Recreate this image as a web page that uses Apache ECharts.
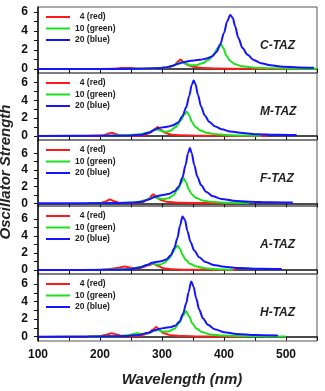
<!DOCTYPE html>
<html>
<head>
<meta charset="utf-8">
<script src="https://cdn.jsdelivr.net/npm/echarts@6/dist/echarts.min.js"></script>
<style>
  html, body { margin: 0; padding: 0; background: #fff; }
  #chart { width: 325px; height: 391px; }
</style>
</head>
<body>
<div id="chart"></div>
<script>
// panel names and legend names
const panelNames = ['C-TAZ', 'M-TAZ', 'F-TAZ', 'A-TAZ', 'H-TAZ'];
const seriesNames = ['4 (red)', '10 (green)', '20 (blue)'];
const yLabelValues = [0, 2, 4, 6];
const yTickValues = [0, 1, 2, 3, 4, 5, 6];
const xLabelValues = [100, 200, 300, 400, 500];

// [wavelength nm, oscillator strength]
const cRed = [[180,0],[220,0.02],[235,0.1],[250,0.1],[262,0.02],[290,0.05],[310,0.15],[320,0.4],[326,0.8],[330,1.0],[335,0.7],[342,0.4],[352,0.2],[365,0.1],[390,0.05],[430,0.02],[530,0]];
const cGreen = [[180,0],[260,0.02],[290,0.05],[305,0.15],[318,0.35],[326,0.6],[332,0.75],[338,0.55],[346,0.4],[355,0.4],[365,0.6],[375,0.95],[383,1.5],[390,2.2],[395,2.6],[399,2.2],[404,1.4],[410,0.85],[418,0.5],[430,0.28],[450,0.14],[480,0.07],[520,0.04],[550,0.03]];
const cBlue = [[100,0],[200,0],[260,0.02],[290,0.08],[305,0.15],[318,0.35],[326,0.55],[334,0.7],[342,0.82],[352,0.9],[362,0.98],[372,1.1],[380,1.3],[388,1.8],[394,2.6],[400,3.8],[405,5.0],[410,5.7],[414,5.4],[418,4.5],[423,3.3],[430,2.2],[438,1.5],[448,0.95],[460,0.6],[475,0.4],[495,0.25],[520,0.16],[545,0.12]];

const mRed = [[180,0],[205,0.05],[213,0.25],[219,0.35],[226,0.2],[235,0.05],[255,0.02],[272,0.1],[282,0.4],[289,0.8],[293,1.0],[298,0.7],[305,0.35],[315,0.15],[330,0.07],[360,0.03],[420,0.01],[470,0]];
const mGreen = [[200,0],[240,0.08],[265,0.2],[278,0.4],[286,0.65],[291,0.75],[297,0.6],[305,0.45],[313,0.55],[322,1.0],[330,1.7],[336,2.4],[340,2.7],[344,2.3],[348,1.6],[354,1.0],[362,0.6],[372,0.35],[388,0.18],[410,0.08],[440,0.04],[460,0.02]];
const mBlue = [[100,0],[200,0.02],[250,0.05],[268,0.15],[280,0.4],[288,0.7],[295,0.88],[302,0.98],[310,1.05],[318,1.2],[326,1.5],[333,2.2],[339,3.2],[344,4.5],[348,5.7],[351,6.2],[354,5.8],[358,4.6],[363,3.3],[369,2.3],[376,1.6],[385,1.1],[396,0.75],[410,0.5],[430,0.32],[455,0.2],[485,0.13],[517,0.1]];

const fRed = [[180,0],[200,0.03],[208,0.2],[216,0.45],[223,0.25],[232,0.05],[250,0.02],[268,0.15],[278,0.5],[286,1.1],[291,0.75],[298,0.4],[308,0.18],[325,0.08],[350,0.04],[390,0.02],[426,0]];
const fGreen = [[180,0],[230,0.03],[260,0.15],[275,0.4],[283,0.65],[288,0.72],[294,0.6],[302,0.5],[310,0.6],[318,0.95],[325,1.6],[330,2.3],[335,3.0],[339,2.5],[343,1.7],[348,1.1],[355,0.65],[365,0.35],[380,0.18],[400,0.08],[440,0.03]];
const fBlue = [[100,0],[200,0.02],[250,0.06],[268,0.2],[280,0.5],[288,0.78],[295,0.92],[303,1.02],[312,1.15],[320,1.45],[327,2.0],[333,3.1],[338,4.6],[342,6.0],[345,6.65],[348,6.0],[352,4.6],[357,3.2],[363,2.2],[371,1.4],[382,0.85],[396,0.52],[415,0.32],[440,0.2],[475,0.13],[511,0.1]];

const aRed = [[200,0],[215,0.1],[228,0.25],[240,0.4],[248,0.3],[258,0.18],[268,0.3],[278,0.55],[286,0.75],[293,0.5],[302,0.22],[315,0.1],[335,0.04],[370,0.02],[420,0]];
const aGreen = [[200,0],[230,0.05],[250,0.15],[265,0.35],[276,0.6],[284,0.78],[290,0.65],[297,0.62],[304,0.85],[311,1.3],[317,2.0],[322,2.6],[325,2.85],[329,2.5],[333,1.8],[338,1.2],[345,0.75],[354,0.45],[366,0.25],[382,0.13],[400,0.07],[415,0.04]];
const aBlue = [[100,0],[220,0.02],[250,0.1],[265,0.3],[276,0.6],[284,0.85],[292,0.97],[300,1.05],[307,1.25],[314,1.7],[320,2.6],[325,3.8],[329,5.2],[333,6.3],[337,5.9],[341,4.6],[346,3.3],[352,2.3],[360,1.5],[370,0.95],[383,0.6],[400,0.38],[425,0.23],[460,0.15],[493,0.12]];

const hRed = [[180,0],[200,0.05],[210,0.22],[219,0.4],[227,0.25],[237,0.06],[250,0.03],[265,0.12],[277,0.35],[285,0.8],[291,1.1],[296,0.75],[303,0.38],[315,0.16],[332,0.07],[360,0.03],[400,0.01],[435,0]];
const hGreen = [[180,0],[230,0.05],[248,0.2],[260,0.4],[270,0.3],[280,0.45],[288,0.7],[293,0.75],[300,0.6],[310,0.58],[320,0.9],[328,1.6],[334,2.4],[339,2.9],[344,2.3],[349,1.5],[356,0.9],[365,0.5],[378,0.26],[398,0.13],[430,0.06],[470,0.03],[500,0.02]];
const hBlue = [[100,0],[190,0.02],[240,0.08],[262,0.2],[278,0.45],[288,0.72],[296,0.9],[304,1.0],[313,1.08],[321,1.25],[328,1.7],[334,2.6],[339,3.8],[343,5.1],[347,6.3],[351,5.7],[355,4.4],[360,3.1],[366,2.1],[374,1.35],[385,0.85],[400,0.52],[420,0.32],[450,0.2],[487,0.13]];

const panelData = [
    [cRed, cGreen, cBlue],
    [mRed, mGreen, mBlue],
    [fRed, fGreen, fBlue],
    [aRed, aGreen, aBlue],
    [hRed, hGreen, hBlue]
];

// layout
const colors = ['#ff1a1a', '#1ee01e', '#1414ff'];
const panels = [
    { top: 7, height: 66, yMin: -0.42, yMax: 6.53 },
    { top: 73, height: 67, yMin: -0.45, yMax: 7.04 },
    { top: 140, height: 66, yMin: -0.32, yMax: 7.6 },
    { top: 206, height: 68, yMin: -0.47, yMax: 7.53 },
    { top: 274, height: 67, yMin: -0.49, yMax: 7.14 }
];
const font = '"Liberation Sans", Arial, sans-serif';

let myChart = echarts.init(document.getElementById('chart'), null, { renderer: 'canvas' });

let grids = [], xAxes = [], yAxes = [], series = [], legends = [], graphics = [];

panels.forEach((p, i) => {
    let last = i === panels.length - 1;
    grids.push({
        left: 38, right: 8, top: p.top, height: p.height,
        show: true, borderColor: '#555', borderWidth: 1
    });
    xAxes.push({
        type: 'value', gridIndex: i, min: 100, max: 550, interval: 50,
        axisLine: { show: true, lineStyle: { color: '#111', width: 1.5 } },
        axisTick: { show: true, inside: false, length: 4, lineStyle: { color: '#111' } },
        axisLabel: {
            show: last, margin: 8, color: '#111', fontFamily: font,
            fontSize: 12, fontWeight: 'bold',
            formatter: v => xLabelValues.indexOf(v) >= 0 ? String(v) : ''
        },
        splitLine: { show: false }
    });
    yAxes.push({
        type: 'value', gridIndex: i, min: p.yMin, max: p.yMax,
        axisLine: { show: true, lineStyle: { color: '#111', width: 1.5 } },
        axisTick: { show: true, inside: false, length: 4, customValues: yTickValues, lineStyle: { color: '#111' } },
        axisLabel: {
            margin: 10, color: '#111', fontFamily: font, fontSize: 12, fontWeight: 'bold',
            customValues: yLabelValues
        },
        splitLine: { show: false }
    });
    panelData[i].forEach((d, k) => {
        series.push({
            type: 'line', name: seriesNames[k], xAxisIndex: i, yAxisIndex: i,
            data: d, symbol: 'none', smooth: 0.3, smoothMonotone: 'x',
            lineStyle: { color: colors[k], width: 2 },
            itemStyle: { color: colors[k] },
            z: 2 + k
        });
    });
    legends.push({
        data: seriesNames, orient: 'vertical', left: 46, top: p.top + 5,
        icon: 'rect', itemWidth: 24, itemHeight: 2, itemGap: 1.5, padding: 0,
        textStyle: { fontFamily: font, fontSize: 8.5, fontWeight: 'bold', color: '#222', lineHeight: 10 },
        formatter: name => name === seriesNames[0] ? '\u2007' + name : name
    });
    graphics.push({
        type: 'text', left: 260, top: p.top + 33,
        style: { text: panelNames[i], font: 'italic bold 12px ' + font, fill: '#222' }
    });
});

graphics.push({
    type: 'text', x: 182, y: 380,
    style: { text: 'Wavelength (nm)', font: 'italic bold 15px ' + font, fill: '#222', textAlign: 'center', textVerticalAlign: 'middle' }
});
graphics.push({
    type: 'text', x: 6, y: 172, rotation: Math.PI / 2,
    style: { text: 'Oscillator Strength', font: 'italic bold 15px ' + font, fill: '#222', textAlign: 'center', textVerticalAlign: 'middle' }
});

let option = {
    animation: false,
    backgroundColor: '#fff',
    grid: grids,
    xAxis: xAxes,
    yAxis: yAxes,
    legend: legends,
    series: series,
    graphic: graphics
};

myChart.setOption(option);
</script>
</body>
</html>
